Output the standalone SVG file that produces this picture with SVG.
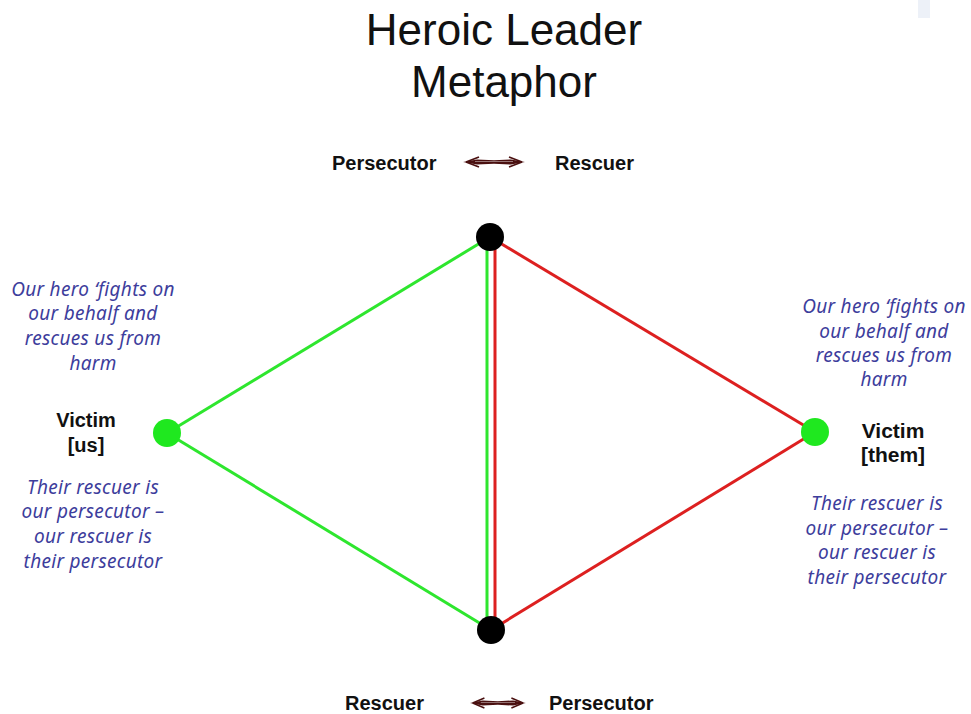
<svg xmlns="http://www.w3.org/2000/svg" width="971" height="714" viewBox="0 0 971 714">
<defs>
<style>
.title{font-family:"Liberation Sans",Arial,sans-serif;font-size:44px;fill:#111;text-anchor:middle}
.lbl{font-family:"Liberation Sans",Arial,sans-serif;font-size:20px;font-weight:bold;fill:#111}
.vic{font-family:"Liberation Sans",Arial,sans-serif;font-size:20px;font-weight:bold;fill:#111;text-anchor:middle}
.hand{font-family:"Noto Sans","DejaVu Sans",sans-serif;font-style:italic;font-size:19px;letter-spacing:0.3px;fill:#3d3d9c;text-anchor:middle}
.g{stroke:#2ee62e;stroke-width:3;fill:none}
.r{stroke:#dd2020;stroke-width:3;fill:none}
.hub{fill:#000}
.vnode{fill:#1fe81f}
.arr{fill:#4a1010}
</style>
<g id="dblarrow">
<path class="arr" d="M0,0 L14,-2.6 L31,-1.8 L48,-2.6 L62,0 L48,2.6 L31,1.8 L14,2.6 Z"/>
<path d="M3,0 L16,-5 M3,0 L16,5" stroke="#4a1010" stroke-width="1.8" fill="none"/>
<path d="M59,0 L46,-5 M59,0 L46,5" stroke="#4a1010" stroke-width="1.8" fill="none"/>
<path d="M12,-0.6 L50,-0.6" stroke="#fff" stroke-width="0.8" opacity="0.6"/>
</g>
</defs>
<rect width="971" height="714" fill="#fff"/>
<rect x="918" y="0" width="12" height="18" fill="#edf1f8"/>

<g id="title">
<text class="title" x="504" y="45">Heroic Leader</text>
<text class="title" x="504" y="97">Metaphor</text>
</g>

<g id="connectors">
<line class="g" x1="167" y1="433" x2="490" y2="237"/>
<line class="g" x1="167" y1="433" x2="491" y2="630"/>
<line class="g" x1="487" y1="237" x2="487" y2="630"/>
<line class="r" x1="495" y1="237" x2="495" y2="630"/>
<line class="r" x1="490" y1="237" x2="815" y2="432"/>
<line class="r" x1="491" y1="630" x2="815" y2="432"/>
</g>

<g id="top-labels">
<text class="lbl" x="332" y="170">Persecutor</text>
<use href="#dblarrow" x="463" y="162"/>
<text class="lbl" x="555" y="170">Rescuer</text>
</g>

<g id="bottom-labels">
<text class="lbl" x="345" y="710">Rescuer</text>
<use href="#dblarrow" x="470" y="703" transform="translate(470 703) scale(0.9 1) translate(-470 -703)"/>
<text class="lbl" x="549" y="710">Persecutor</text>
</g>

<g id="node-top"><circle class="hub" cx="490" cy="237" r="14"/></g>
<g id="node-bottom"><circle class="hub" cx="491" cy="630" r="14"/></g>

<g id="node-left">
<circle class="vnode" cx="167" cy="433" r="14"/>
<text class="vic" x="86" y="427">Victim</text>
<text class="vic" x="86" y="452">[us]</text>
</g>

<g id="node-right">
<circle class="vnode" cx="815" cy="432" r="14"/>
<text class="vic" x="893" y="438" style="font-size:21px">Victim</text>
<text class="vic" x="893" y="462" style="font-size:21px">[them]</text>
</g>

<g id="note-left-top">
<text class="hand" x="93" y="296">Our hero ‘fights on</text>
<text class="hand" x="93" y="320">our behalf and</text>
<text class="hand" x="93" y="345">rescues us from</text>
<text class="hand" x="93" y="370">harm</text>
</g>
<g id="note-left-bottom">
<text class="hand" x="93" y="494">Their rescuer is</text>
<text class="hand" x="93" y="518">our persecutor –</text>
<text class="hand" x="93" y="543">our rescuer is</text>
<text class="hand" x="93" y="568">their persecutor</text>
</g>
<g id="note-right-top">
<text class="hand" x="884" y="313">Our hero ‘fights on</text>
<text class="hand" x="884" y="338">our behalf and</text>
<text class="hand" x="884" y="362">rescues us from</text>
<text class="hand" x="884" y="386">harm</text>
</g>
<g id="note-right-bottom">
<text class="hand" x="877" y="510">Their rescuer is</text>
<text class="hand" x="877" y="535">our persecutor –</text>
<text class="hand" x="877" y="559">our rescuer is</text>
<text class="hand" x="877" y="584">their persecutor</text>
</g>
</svg>
